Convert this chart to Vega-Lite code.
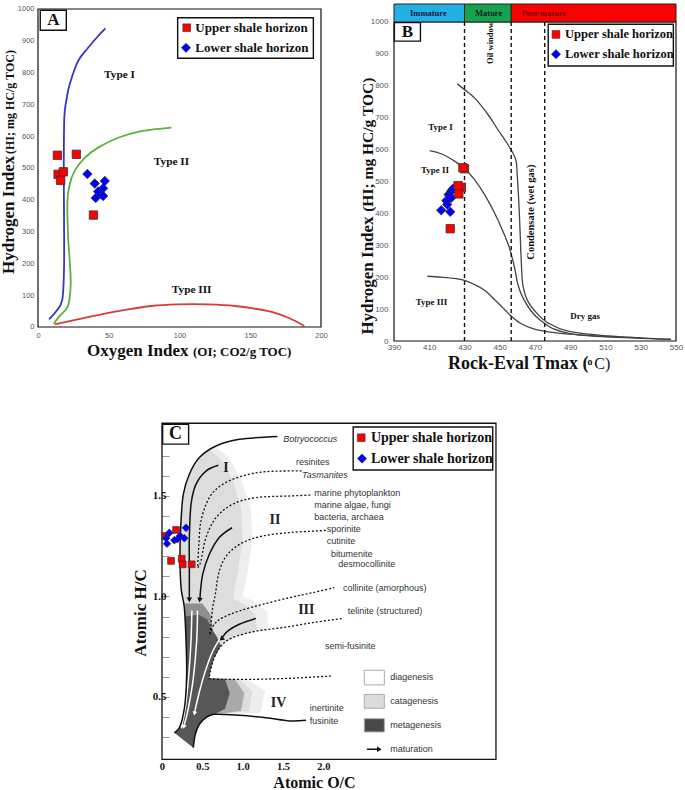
{
"$schema": "https://vega.github.io/schema/vega-lite/v6.json",
"padding": {"left": 0, "top": 3, "right": 5, "bottom": 0},
"autosize": {"type": "pad"},
"width": 638, "height": 755,
"config": {"view": {"stroke": null}, "axis": {"labelFont": "Liberation Sans", "labelColor": "#555", "ticks": false, "domain": false, "grid": false, "labelFlush": false, "labelOverlap": false}, "text": {"font": "Liberation Serif"}},
"datasets": {
"aCurves": [
{"t":"I","k":0,"x":7.8,"y":24},{"t":"I","k":1,"x":13,"y":50},{"t":"I","k":2,"x":17.2,"y":87},{"t":"I","k":3,"x":18.4,"y":187},{"t":"I","k":4,"x":18.4,"y":344},{"t":"I","k":5,"x":18.2,"y":501},{"t":"I","k":6,"x":18.6,"y":658},{"t":"I","k":7,"x":20,"y":711},{"t":"I","k":8,"x":22.4,"y":763},{"t":"I","k":9,"x":28.3,"y":836},{"t":"I","k":10,"x":35.4,"y":878},{"t":"I","k":11,"x":42.5,"y":915},{"t":"I","k":12,"x":47.6,"y":939},
{"t":"II","k":0,"x":11.1,"y":10},{"t":"II","k":1,"x":15.3,"y":35},{"t":"II","k":2,"x":21.2,"y":66},{"t":"II","k":3,"x":23.1,"y":134},{"t":"II","k":4,"x":22.4,"y":208},{"t":"II","k":5,"x":21.2,"y":291},{"t":"II","k":6,"x":20.8,"y":396},{"t":"II","k":7,"x":22.4,"y":449},{"t":"II","k":8,"x":25.9,"y":491},{"t":"II","k":9,"x":33,"y":532},{"t":"II","k":10,"x":42.5,"y":564},{"t":"II","k":11,"x":56.6,"y":595},{"t":"II","k":12,"x":73.1,"y":616},{"t":"II","k":13,"x":94.3,"y":627},
{"t":"III","k":0,"x":11.8,"y":8},{"t":"III","k":1,"x":33,"y":29},{"t":"III","k":2,"x":56.6,"y":50},{"t":"III","k":3,"x":80.2,"y":66},{"t":"III","k":4,"x":99,"y":71},{"t":"III","k":5,"x":120.3,"y":71},{"t":"III","k":6,"x":139.2,"y":66},{"t":"III","k":7,"x":162.7,"y":50},{"t":"III","k":8,"x":176.9,"y":29},{"t":"III","k":9,"x":188.2,"y":3}
],
"aPts": [
{"hz":"Upper shale horizon","x":13.7,"y":540},{"hz":"Upper shale horizon","x":27.1,"y":543},{"hz":"Upper shale horizon","x":14.2,"y":480},{"hz":"Upper shale horizon","x":17.9,"y":488},{"hz":"Upper shale horizon","x":16,"y":461},{"hz":"Upper shale horizon","x":39.2,"y":352},
{"hz":"Lower shale horizon","x":34.9,"y":481},{"hz":"Lower shale horizon","x":40.1,"y":451},{"hz":"Lower shale horizon","x":47.2,"y":459},{"hz":"Lower shale horizon","x":46,"y":436},{"hz":"Lower shale horizon","x":43.6,"y":422},{"hz":"Lower shale horizon","x":42.5,"y":426},{"hz":"Lower shale horizon","x":46,"y":412},{"hz":"Lower shale horizon","x":40.8,"y":406}
],
"bCurves": [
{"t":"I","k":0,"x":425.9,"y":806},{"t":"I","k":1,"x":430,"y":788},{"t":"I","k":2,"x":435.7,"y":762},{"t":"I","k":3,"x":443.3,"y":710},{"t":"I","k":4,"x":448.9,"y":663},{"t":"I","k":5,"x":454.6,"y":616},{"t":"I","k":6,"x":457.4,"y":590},{"t":"I","k":7,"x":459.3,"y":564},{"t":"I","k":8,"x":459.9,"y":522},{"t":"I","k":9,"x":460.8,"y":438},{"t":"I","k":10,"x":461.6,"y":334},{"t":"I","k":11,"x":462.2,"y":251},{"t":"I","k":12,"x":463.1,"y":177},{"t":"I","k":13,"x":465.9,"y":125},{"t":"I","k":14,"x":471.6,"y":84},{"t":"I","k":15,"x":477.3,"y":57},{"t":"I","k":16,"x":488.6,"y":31},{"t":"I","k":17,"x":511.3,"y":16},{"t":"I","k":18,"x":547.2,"y":5},
{"t":"II","k":0,"x":410.2,"y":597},{"t":"II","k":1,"x":416.8,"y":587},{"t":"II","k":2,"x":424.4,"y":564},{"t":"II","k":3,"x":430,"y":541},{"t":"II","k":4,"x":435.7,"y":506},{"t":"II","k":5,"x":441.4,"y":459},{"t":"II","k":6,"x":447,"y":402},{"t":"II","k":7,"x":451.8,"y":344},{"t":"II","k":8,"x":455.5,"y":292},{"t":"II","k":9,"x":458.4,"y":230},{"t":"II","k":10,"x":460.3,"y":177},{"t":"II","k":11,"x":463.1,"y":136},{"t":"II","k":12,"x":467.8,"y":94},{"t":"II","k":13,"x":473.5,"y":63},{"t":"II","k":14,"x":481,"y":37},{"t":"II","k":15,"x":492.4,"y":21},{"t":"II","k":16,"x":511.3,"y":13},{"t":"II","k":17,"x":547.2,"y":5},
{"t":"III","k":0,"x":408.9,"y":203},{"t":"III","k":1,"x":416.8,"y":200},{"t":"III","k":2,"x":424.4,"y":196},{"t":"III","k":3,"x":430,"y":190},{"t":"III","k":4,"x":435.7,"y":177},{"t":"III","k":5,"x":441.4,"y":159},{"t":"III","k":6,"x":447,"y":130},{"t":"III","k":7,"x":452.7,"y":99},{"t":"III","k":8,"x":456.5,"y":78},{"t":"III","k":9,"x":462.2,"y":54},{"t":"III","k":10,"x":469.7,"y":37},{"t":"III","k":11,"x":481,"y":26},{"t":"III","k":12,"x":496.2,"y":19},{"t":"III","k":13,"x":511.3,"y":14},{"t":"III","k":14,"x":530,"y":10}
],
"bPts": [
{"hz":"Lower shale horizon","x":416.8,"y":410},{"hz":"Lower shale horizon","x":421.9,"y":405},{"hz":"Lower shale horizon","x":420.2,"y":428},{"hz":"Lower shale horizon","x":419.7,"y":440},{"hz":"Lower shale horizon","x":421,"y":459},{"hz":"Lower shale horizon","x":422.5,"y":449},{"hz":"Lower shale horizon","x":422.5,"y":470},{"hz":"Lower shale horizon","x":423.4,"y":477},
{"hz":"Upper shale horizon","x":430,"y":540},{"hz":"Upper shale horizon","x":429.1,"y":543},{"hz":"Upper shale horizon","x":428.2,"y":482},{"hz":"Upper shale horizon","x":426.3,"y":487},{"hz":"Upper shale horizon","x":426.8,"y":461},{"hz":"Upper shale horizon","x":421.9,"y":352}
],
"cPts": [
{"hz":"Upper shale horizon","x":0.041,"y":1.301},{"hz":"Upper shale horizon","x":0.174,"y":1.331},{"hz":"Upper shale horizon","x":0.112,"y":1.177},{"hz":"Upper shale horizon","x":0.244,"y":1.188},{"hz":"Upper shale horizon","x":0.256,"y":1.16},{"hz":"Upper shale horizon","x":0.368,"y":1.16},
{"hz":"Lower shale horizon","x":0.091,"y":1.317},{"hz":"Lower shale horizon","x":0.05,"y":1.29},{"hz":"Lower shale horizon","x":0.062,"y":1.263},{"hz":"Lower shale horizon","x":0.153,"y":1.28},{"hz":"Lower shale horizon","x":0.19,"y":1.285},{"hz":"Lower shale horizon","x":0.223,"y":1.301},{"hz":"Lower shale horizon","x":0.277,"y":1.29},{"hz":"Lower shale horizon","x":0.298,"y":1.342}
],
"cPoly": [
{"p":"L0","k":0,"x":0.66,"y":1.745},{"p":"L0","k":1,"x":0.82,"y":1.695},{"p":"L0","k":2,"x":0.98,"y":1.585},{"p":"L0","k":3,"x":1.1,"y":1.44},{"p":"L0","k":4,"x":1.12,"y":1.28},{"p":"L0","k":5,"x":1.06,"y":1.12},{"p":"L0","k":6,"x":1.0,"y":1.0},{"p":"L0","k":7,"x":1.15,"y":0.975},{"p":"L0","k":8,"x":1.3,"y":0.925},{"p":"L0","k":9,"x":1.32,"y":0.84},{"p":"L0","k":10,"x":0.876,"y":0.795},{"p":"L0","k":11,"x":0.731,"y":0.754},{"p":"L0","k":12,"x":0.649,"y":0.696},{"p":"L0","k":13,"x":0.599,"y":0.629},{"p":"L0","k":14,"x":0.587,"y":0.593},{"p":"L0","k":15,"x":1.05,"y":0.59},{"p":"L0","k":16,"x":1.28,"y":0.53},{"p":"L0","k":17,"x":1.22,"y":0.42},{"p":"L0","k":18,"x":0.649,"y":0.414},{"p":"L0","k":19,"x":0.3,"y":0.4},{"p":"L0","k":20,"x":0.289,"y":0.48},{"p":"L0","k":21,"x":0.306,"y":0.613},{"p":"L0","k":22,"x":0.298,"y":0.779},{"p":"L0","k":23,"x":0.277,"y":0.944},{"p":"L0","k":24,"x":0.236,"y":1.044},{"p":"L0","k":25,"x":0.223,"y":1.21},{"p":"L0","k":26,"x":0.236,"y":1.376},{"p":"L0","k":27,"x":0.264,"y":1.508},{"p":"L0","k":28,"x":0.339,"y":1.608},{"p":"L0","k":29,"x":0.463,"y":1.691},{"p":"L0","k":30,"x":0.58,"y":1.735},
{"p":"L","k":0,"x":0.58,"y":1.735},{"p":"L","k":1,"x":0.72,"y":1.685},{"p":"L","k":2,"x":0.88,"y":1.58},{"p":"L","k":3,"x":0.98,"y":1.44},{"p":"L","k":4,"x":1.0,"y":1.28},{"p":"L","k":5,"x":0.94,"y":1.12},{"p":"L","k":6,"x":0.88,"y":0.99},{"p":"L","k":7,"x":1.02,"y":0.96},{"p":"L","k":8,"x":1.15,"y":0.91},{"p":"L","k":9,"x":1.18,"y":0.835},{"p":"L","k":10,"x":0.876,"y":0.795},{"p":"L","k":11,"x":0.731,"y":0.754},{"p":"L","k":12,"x":0.649,"y":0.696},{"p":"L","k":13,"x":0.599,"y":0.629},{"p":"L","k":14,"x":0.587,"y":0.593},{"p":"L","k":15,"x":0.95,"y":0.59},{"p":"L","k":16,"x":1.12,"y":0.53},{"p":"L","k":17,"x":1.08,"y":0.43},{"p":"L","k":18,"x":0.649,"y":0.414},{"p":"L","k":19,"x":0.3,"y":0.4},{"p":"L","k":20,"x":0.289,"y":0.48},{"p":"L","k":21,"x":0.306,"y":0.613},{"p":"L","k":22,"x":0.298,"y":0.779},{"p":"L","k":23,"x":0.277,"y":0.944},{"p":"L","k":24,"x":0.236,"y":1.044},{"p":"L","k":25,"x":0.223,"y":1.21},{"p":"L","k":26,"x":0.236,"y":1.376},{"p":"L","k":27,"x":0.264,"y":1.508},{"p":"L","k":28,"x":0.339,"y":1.608},{"p":"L","k":29,"x":0.463,"y":1.691},
{"p":"M","k":0,"x":0.587,"y":0.593},{"p":"M","k":1,"x":0.9,"y":0.59},{"p":"M","k":2,"x":1.02,"y":0.52},{"p":"M","k":3,"x":0.98,"y":0.43},{"p":"M","k":4,"x":0.649,"y":0.414},{"p":"M","k":5,"x":0.45,"y":0.4},{"p":"M","k":6,"x":0.5,"y":0.55},
{"p":"M2","k":0,"x":0.28,"y":0.965},{"p":"M2","k":1,"x":0.5,"y":0.965},{"p":"M2","k":2,"x":0.6,"y":0.91},{"p":"M2","k":3,"x":0.63,"y":0.83},{"p":"M2","k":4,"x":0.29,"y":0.85},
{"p":"D","k":0,"x":0.29,"y":0.9},{"p":"D","k":1,"x":0.45,"y":0.91},{"p":"D","k":2,"x":0.56,"y":0.885},{"p":"D","k":3,"x":0.607,"y":0.845},{"p":"D","k":4,"x":0.68,"y":0.8},{"p":"D","k":5,"x":0.731,"y":0.754},{"p":"D","k":6,"x":0.649,"y":0.696},{"p":"D","k":7,"x":0.599,"y":0.629},{"p":"D","k":8,"x":0.587,"y":0.593},{"p":"D","k":9,"x":0.78,"y":0.59},{"p":"D","k":10,"x":0.84,"y":0.52},{"p":"D","k":11,"x":0.78,"y":0.44},{"p":"D","k":12,"x":0.649,"y":0.414},{"p":"D","k":13,"x":0.545,"y":0.397},{"p":"D","k":14,"x":0.463,"y":0.364},{"p":"D","k":15,"x":0.413,"y":0.314},{"p":"D","k":16,"x":0.388,"y":0.248},{"p":"D","k":17,"x":0.153,"y":0.322},{"p":"D","k":18,"x":0.215,"y":0.347},{"p":"D","k":19,"x":0.256,"y":0.397},{"p":"D","k":20,"x":0.289,"y":0.48},{"p":"D","k":21,"x":0.306,"y":0.613},{"p":"D","k":22,"x":0.298,"y":0.779},{"p":"D","k":23,"x":0.285,"y":0.88}
],
"cSolid": [
{"c":"outer","k":0,"x":1.43,"y":1.796},{"c":"outer","k":1,"x":0.958,"y":1.782},{"c":"outer","k":2,"x":0.669,"y":1.749},{"c":"outer","k":3,"x":0.463,"y":1.691},{"c":"outer","k":4,"x":0.339,"y":1.608},{"c":"outer","k":5,"x":0.264,"y":1.508},{"c":"outer","k":6,"x":0.236,"y":1.376},{"c":"outer","k":7,"x":0.223,"y":1.21},{"c":"outer","k":8,"x":0.236,"y":1.044},{"c":"outer","k":9,"x":0.277,"y":0.944},{"c":"outer","k":10,"x":0.298,"y":0.779},{"c":"outer","k":11,"x":0.306,"y":0.613},{"c":"outer","k":12,"x":0.289,"y":0.48},{"c":"outer","k":13,"x":0.256,"y":0.397},{"c":"outer","k":14,"x":0.215,"y":0.347},{"c":"outer","k":15,"x":0.153,"y":0.322},
{"c":"tail","k":0,"x":0.388,"y":0.248},{"c":"tail","k":1,"x":0.413,"y":0.314},{"c":"tail","k":2,"x":0.463,"y":0.364},{"c":"tail","k":3,"x":0.545,"y":0.397},{"c":"tail","k":4,"x":0.649,"y":0.414},{"c":"tail","k":5,"x":0.958,"y":0.409},{"c":"tail","k":6,"x":1.289,"y":0.397},{"c":"tail","k":7,"x":1.578,"y":0.381},{"c":"tail","k":8,"x":1.785,"y":0.384},
{"c":"aI","k":0,"x":0.698,"y":1.653},{"c":"aI","k":1,"x":0.545,"y":1.624},{"c":"aI","k":2,"x":0.421,"y":1.558},{"c":"aI","k":3,"x":0.36,"y":1.459},{"c":"aI","k":4,"x":0.339,"y":1.293},{"c":"aI","k":5,"x":0.339,"y":1.127},{"c":"aI","k":6,"x":0.339,"y":0.99},
{"c":"aII","k":0,"x":0.868,"y":1.342},{"c":"aII","k":1,"x":0.71,"y":1.293},{"c":"aII","k":2,"x":0.587,"y":1.21},{"c":"aII","k":3,"x":0.504,"y":1.11},{"c":"aII","k":4,"x":0.47,"y":0.99},
{"c":"aIII","k":0,"x":1.165,"y":0.891},{"c":"aIII","k":1,"x":0.958,"y":0.862},{"c":"aIII","k":2,"x":0.814,"y":0.828},{"c":"aIII","k":3,"x":0.745,"y":0.795},
{"c":"mat","k":0,"x":2.54,"y":0.24},{"c":"mat","k":1,"x":2.68,"y":0.24}
],
"cDot": [
{"c":"d1","k":0,"x":1.73,"y":1.625},{"c":"d1","k":1,"x":1.289,"y":1.621},{"c":"d1","k":2,"x":1.0,"y":1.6},{"c":"d1","k":3,"x":0.752,"y":1.558},{"c":"d1","k":4,"x":0.587,"y":1.492},{"c":"d1","k":5,"x":0.483,"y":1.376},{"c":"d1","k":6,"x":0.455,"y":1.243},{"c":"d1","k":7,"x":0.442,"y":1.143},
{"c":"d2","k":0,"x":0.442,"y":1.143},{"c":"d2","k":1,"x":0.483,"y":1.177},{"c":"d2","k":2,"x":0.545,"y":1.293},{"c":"d2","k":3,"x":0.669,"y":1.392},{"c":"d2","k":4,"x":0.876,"y":1.459},{"c":"d2","k":5,"x":1.165,"y":1.492},{"c":"d2","k":6,"x":1.578,"y":1.5},{"c":"d2","k":7,"x":1.85,"y":1.505},
{"c":"d5","k":0,"x":2.03,"y":1.329},{"c":"d5","k":1,"x":1.909,"y":1.326},{"c":"d5","k":2,"x":1.578,"y":1.318},{"c":"d5","k":3,"x":1.248,"y":1.301},{"c":"d5","k":4,"x":1.0,"y":1.268},{"c":"d5","k":5,"x":0.814,"y":1.21},{"c":"d5","k":6,"x":0.71,"y":1.127},{"c":"d5","k":7,"x":0.661,"y":1.011},{"c":"d5","k":8,"x":0.628,"y":0.944},{"c":"d5","k":9,"x":0.607,"y":0.862},{"c":"d5","k":10,"x":0.595,"y":0.812},
{"c":"d6","k":0,"x":0.595,"y":0.812},{"c":"d6","k":1,"x":0.649,"y":0.862},{"c":"d6","k":2,"x":0.752,"y":0.895},{"c":"d6","k":3,"x":0.958,"y":0.928},{"c":"d6","k":4,"x":1.248,"y":0.961},{"c":"d6","k":5,"x":1.578,"y":0.994},{"c":"d6","k":6,"x":1.868,"y":1.019},{"c":"d6","k":7,"x":2.136,"y":1.044},
{"c":"d8","k":0,"x":2.227,"y":0.89},{"c":"d8","k":1,"x":1.868,"y":0.87},{"c":"d8","k":2,"x":1.496,"y":0.845},{"c":"d8","k":3,"x":1.165,"y":0.828},{"c":"d8","k":4,"x":0.876,"y":0.795},{"c":"d8","k":5,"x":0.731,"y":0.754},{"c":"d8","k":6,"x":0.649,"y":0.696},{"c":"d8","k":7,"x":0.599,"y":0.629},{"c":"d8","k":8,"x":0.587,"y":0.593},
{"c":"d9","k":0,"x":0.587,"y":0.593},{"c":"d9","k":1,"x":0.669,"y":0.588},{"c":"d9","k":2,"x":1.165,"y":0.588},{"c":"d9","k":3,"x":1.578,"y":0.593},{"c":"d9","k":4,"x":1.909,"y":0.6},{"c":"d9","k":5,"x":2.095,"y":0.604}
],
"cWhite": [
{"c":"w1","k":0,"x":0.37,"y":0.93},{"c":"w1","k":1,"x":0.36,"y":0.78},{"c":"w1","k":2,"x":0.33,"y":0.6},{"c":"w1","k":3,"x":0.29,"y":0.45},{"c":"w1","k":4,"x":0.245,"y":0.36},
{"c":"w2","k":0,"x":0.44,"y":0.93},{"c":"w2","k":1,"x":0.43,"y":0.78},{"c":"w2","k":2,"x":0.39,"y":0.6},{"c":"w2","k":3,"x":0.33,"y":0.45},{"c":"w2","k":4,"x":0.275,"y":0.36},
{"c":"w3","k":0,"x":0.72,"y":0.79},{"c":"w3","k":1,"x":0.62,"y":0.72},{"c":"w3","k":2,"x":0.53,"y":0.62},{"c":"w3","k":3,"x":0.46,"y":0.52},{"c":"w3","k":4,"x":0.405,"y":0.425}
]
},
"resolve": {"scale": {"x": "independent", "y": "independent", "stroke": "independent", "fill": "independent", "shape": "independent", "size": "independent", "color": "independent", "angle": "independent"}, "axis": {"x": "independent", "y": "independent"}},
"layer": [
{
"resolve": {"scale": {"stroke": "independent", "fill": "independent", "shape": "independent", "size": "independent", "color": "independent"}},
"layer": [
{"data": {"name": "aCurves"}, "mark": {"type": "line", "strokeWidth": 1.8, "interpolate": "cardinal"},
 "encoding": {
  "x": {"field": "x", "type": "quantitative", "scale": {"domain": [0, 450.88], "nice": false, "zero": false}, "axis": {"orient": "bottom", "offset": -432, "values": [0, 50, 100, 150, 200], "format": "d", "title": null, "labelFontSize": 7.5, "labelPadding": 4}},
  "y": {"field": "y", "type": "quantitative", "scale": {"domain": [-1358.5, 1015.7], "nice": false, "zero": false}, "axis": {"orient": "left", "values": [0, 100, 200, 300, 400, 500, 600, 700, 800, 900, 1000], "format": "d", "title": null, "labelFontSize": 7.5, "labelPadding": 4}},
  "stroke": {"field": "t", "type": "nominal", "scale": {"domain": ["I", "II", "III"], "range": ["#3434c8", "#5cb040", "#d63c3c"]}, "legend": null},
  "order": {"field": "k", "type": "quantitative"}}},
{"data": {"values": [{}]}, "mark": {"type": "rect", "fill": "white", "fillOpacity": 0, "stroke": "#111", "strokeWidth": 1.2},
 "encoding": {"x": {"datum": 0, "type": "quantitative"}, "x2": {"datum": 200}, "y": {"datum": 0, "type": "quantitative"}, "y2": {"datum": 1000}}},
{"data": {"name": "aPts"}, "mark": {"type": "point", "filled": true, "stroke": "#333", "strokeWidth": 0.8, "opacity": 1},
 "encoding": {"x": {"field": "x", "type": "quantitative"}, "y": {"field": "y", "type": "quantitative"},
  "shape": {"field": "hz", "type": "nominal", "scale": {"domain": ["Upper shale horizon", "Lower shale horizon"], "range": ["square", "diamond"]}, "legend": null},
  "fill": {"field": "hz", "type": "nominal", "scale": {"domain": ["Upper shale horizon", "Lower shale horizon"], "range": ["#ff0000", "#0000ff"]}, "legend": null},
  "size": {"field": "hz", "type": "ordinal", "scale": {"domain": ["Upper shale horizon", "Lower shale horizon"], "range": [70, 90]}, "legend": null}}},
{"data": {"values": [{}]}, "mark": {"type": "rect", "fill": "white", "stroke": "#111", "strokeWidth": 1.4},
 "encoding": {"x": {"datum": 98.7, "type": "quantitative"}, "x2": {"datum": 194.6}, "y": {"datum": 845, "type": "quantitative"}, "y2": {"datum": 972.6}}},
{"data": {"values": [{"hz": "Upper shale horizon", "x": 105.1, "y": 941}, {"hz": "Lower shale horizon", "x": 104.6, "y": 878}]},
 "mark": {"type": "point", "filled": true, "stroke": "#333", "strokeWidth": 0.6, "opacity": 1},
 "encoding": {"x": {"field": "x", "type": "quantitative"}, "y": {"field": "y", "type": "quantitative"},
  "shape": {"field": "hz", "type": "nominal", "scale": {"domain": ["Upper shale horizon", "Lower shale horizon"], "range": ["square", "diamond"]}, "legend": null},
  "fill": {"field": "hz", "type": "nominal", "scale": {"domain": ["Upper shale horizon", "Lower shale horizon"], "range": ["#ff0000", "#0000ff"]}, "legend": null},
  "size": {"field": "hz", "type": "ordinal", "scale": {"domain": ["Upper shale horizon", "Lower shale horizon"], "range": [60, 85]}, "legend": null}}},
{"data": {"values": [{"x": 111.2, "y": 941, "txt": "Upper shale horizon"}, {"x": 111.2, "y": 878, "txt": "Lower shale horizon"}]},
 "mark": {"type": "text", "align": "left", "baseline": "middle", "fontWeight": "bold", "fontSize": 13, "color": "#111"},
 "encoding": {"x": {"field": "x", "type": "quantitative"}, "y": {"field": "y", "type": "quantitative"}, "text": {"field": "txt"}}},
{"data": {"values": [{}]}, "mark": {"type": "rect", "fill": "white", "stroke": "#111", "strokeWidth": 1.4},
 "encoding": {"x": {"datum": 1.6, "type": "quantitative"}, "x2": {"datum": 20}, "y": {"datum": 933, "type": "quantitative"}, "y2": {"datum": 996}}},
{"data": {"values": [{"x": 10.8, "y": 964, "txt": "A"}]},
 "mark": {"type": "text", "align": "center", "baseline": "middle", "fontWeight": "bold", "fontSize": 17, "color": "#111"},
 "encoding": {"x": {"field": "x", "type": "quantitative"}, "y": {"field": "y", "type": "quantitative"}, "text": {"field": "txt"}}},
{"data": {"values": [{"x": 57.6, "y": 792, "txt": "Type I"}, {"x": 94.3, "y": 519, "txt": "Type II"}, {"x": 108.6, "y": 115, "txt": "Type III"}]},
 "mark": {"type": "text", "align": "center", "baseline": "middle", "fontWeight": "bold", "fontSize": 11.3, "color": "#111"},
 "encoding": {"x": {"field": "x", "type": "quantitative"}, "y": {"field": "y", "type": "quantitative"}, "text": {"field": "txt"}}},
{"data": {"values": [{"x": 34.6, "y": -91, "txt": "Oxygen Index"}]},
 "mark": {"type": "text", "align": "left", "baseline": "alphabetic", "fontWeight": "bold", "fontSize": 17, "color": "#111"},
 "encoding": {"x": {"field": "x", "type": "quantitative"}, "y": {"field": "y", "type": "quantitative"}, "text": {"field": "txt"}}},
{"data": {"values": [{"x": 109.5, "y": -91, "txt": "(OI; CO2/g TOC)"}]},
 "mark": {"type": "text", "align": "left", "baseline": "alphabetic", "fontWeight": "bold", "fontSize": 13, "color": "#111"},
 "encoding": {"x": {"field": "x", "type": "quantitative"}, "y": {"field": "y", "type": "quantitative"}, "text": {"field": "txt"}}},
{"data": {"values": [{"x": -16.7, "y": 167, "txt": "Hydrogen Index"}]},
 "mark": {"type": "text", "angle": 270, "align": "left", "baseline": "alphabetic", "fontWeight": "bold", "fontSize": 17, "color": "#111"},
 "encoding": {"x": {"field": "x", "type": "quantitative"}, "y": {"field": "y", "type": "quantitative"}, "text": {"field": "txt"}}},
{"data": {"values": [{"x": -16.7, "y": 544, "txt": "(HI; mg HC/g TOC)"}]},
 "mark": {"type": "text", "angle": 270, "align": "left", "baseline": "alphabetic", "fontWeight": "bold", "fontSize": 12, "color": "#111"},
 "encoding": {"x": {"field": "x", "type": "quantitative"}, "y": {"field": "y", "type": "quantitative"}, "text": {"field": "txt"}}}
]
},
{
"resolve": {"scale": {"stroke": "independent", "fill": "independent", "shape": "independent", "size": "independent", "color": "independent"}},
"layer": [
{"data": {"name": "bCurves"}, "mark": {"type": "line", "strokeWidth": 1.3, "interpolate": "cardinal", "color": "#444"},
 "encoding": {
  "x": {"field": "x", "type": "quantitative", "scale": {"domain": [188.01, 550], "nice": false, "zero": false}, "axis": {"orient": "bottom", "offset": -418, "values": [390, 410, 430, 450, 470, 490, 510, 530, 550], "format": "d", "title": null, "labelFontSize": 8, "labelPadding": 2}},
  "y": {"field": "y", "type": "quantitative", "scale": {"domain": [-1310.3, 1056.4], "nice": false, "zero": false}, "axis": {"orient": "left", "offset": -356, "values": [0, 100, 200, 300, 400, 500, 600, 700, 800, 900, 1000], "format": "d", "title": null, "labelFontSize": 8, "labelPadding": 6}},
  "detail": {"field": "t"},
  "order": {"field": "k", "type": "quantitative"}}},
{"data": {"values": [{}]}, "mark": {"type": "rect", "fill": "white", "fillOpacity": 0, "stroke": "#111", "strokeWidth": 1.2},
 "encoding": {"x": {"datum": 390, "type": "quantitative"}, "x2": {"datum": 550}, "y": {"datum": 0, "type": "quantitative"}, "y2": {"datum": 1000}}},
{"data": {"values": [{"lab": "Immature", "x": 390, "x2": 430}, {"lab": "Mature", "x": 430, "x2": 456.5}, {"lab": "Post-mature", "x": 456.5, "x2": 550}]},
 "mark": {"type": "rect", "stroke": "#222", "strokeWidth": 1},
 "encoding": {"x": {"field": "x", "type": "quantitative"}, "x2": {"field": "x2"}, "y": {"datum": 1000, "type": "quantitative"}, "y2": {"datum": 1056.4},
  "color": {"field": "lab", "type": "nominal", "scale": {"domain": ["Immature", "Mature", "Post-mature"], "range": ["#22b0e6", "#16a34e", "#ff0000"]}, "legend": null}}},
{"data": {"values": [{"lab": "Immature", "x": 409.5, "y": 1028}, {"lab": "Mature", "x": 443.7, "y": 1028}, {"lab": "Post-mature", "x": 475.1, "y": 1028}]},
 "mark": {"type": "text", "align": "center", "baseline": "middle", "fontWeight": "bold", "fontSize": 8.5},
 "encoding": {"x": {"field": "x", "type": "quantitative"}, "y": {"field": "y", "type": "quantitative"}, "text": {"field": "lab"},
  "color": {"field": "lab", "type": "nominal", "scale": {"domain": ["Immature", "Mature", "Post-mature"], "range": ["#1a1a3a", "#1a1a1a", "#7a0000"]}, "legend": null}}},
{"data": {"values": [{"x": 430}, {"x": 456.5}, {"x": 475.5}]},
 "mark": {"type": "rule", "strokeDash": [4, 3], "strokeWidth": 1.4, "color": "#111"},
 "encoding": {"x": {"field": "x", "type": "quantitative"}, "y": {"datum": 0, "type": "quantitative"}, "y2": {"datum": 1000}}},
{"data": {"name": "bPts"}, "mark": {"type": "point", "filled": true, "stroke": "#333", "strokeWidth": 0.8, "opacity": 1},
 "encoding": {"x": {"field": "x", "type": "quantitative"}, "y": {"field": "y", "type": "quantitative"},
  "shape": {"field": "hz", "type": "nominal", "scale": {"domain": ["Upper shale horizon", "Lower shale horizon"], "range": ["square", "diamond"]}, "legend": null},
  "fill": {"field": "hz", "type": "nominal", "scale": {"domain": ["Upper shale horizon", "Lower shale horizon"], "range": ["#ff0000", "#0000ff"]}, "legend": null},
  "size": {"field": "hz", "type": "ordinal", "scale": {"domain": ["Upper shale horizon", "Lower shale horizon"], "range": [70, 90]}, "legend": null}}},
{"data": {"values": [{}]}, "mark": {"type": "rect", "fill": "white", "stroke": "#111", "strokeWidth": 1.4},
 "encoding": {"x": {"datum": 477.5, "type": "quantitative"}, "x2": {"datum": 548.5}, "y": {"datum": 862, "type": "quantitative"}, "y2": {"datum": 992.8}}},
{"data": {"values": [{"hz": "Upper shale horizon", "x": 481.9, "y": 961}, {"hz": "Lower shale horizon", "x": 481.9, "y": 899}]},
 "mark": {"type": "point", "filled": true, "stroke": "#333", "strokeWidth": 0.6, "opacity": 1},
 "encoding": {"x": {"field": "x", "type": "quantitative"}, "y": {"field": "y", "type": "quantitative"},
  "shape": {"field": "hz", "type": "nominal", "scale": {"domain": ["Upper shale horizon", "Lower shale horizon"], "range": ["square", "diamond"]}, "legend": null},
  "fill": {"field": "hz", "type": "nominal", "scale": {"domain": ["Upper shale horizon", "Lower shale horizon"], "range": ["#ff0000", "#0000ff"]}, "legend": null},
  "size": {"field": "hz", "type": "ordinal", "scale": {"domain": ["Upper shale horizon", "Lower shale horizon"], "range": [60, 85]}, "legend": null}}},
{"data": {"values": [{"x": 487, "y": 961, "txt": "Upper shale horizon"}, {"x": 487, "y": 899, "txt": "Lower shale horizon"}]},
 "mark": {"type": "text", "align": "left", "baseline": "middle", "fontWeight": "bold", "fontSize": 12.5, "color": "#111"},
 "encoding": {"x": {"field": "x", "type": "quantitative"}, "y": {"field": "y", "type": "quantitative"}, "text": {"field": "txt"}}},
{"data": {"values": [{}]}, "mark": {"type": "rect", "fill": "white", "stroke": "#111", "strokeWidth": 1.4},
 "encoding": {"x": {"datum": 390.2, "type": "quantitative"}, "x2": {"datum": 405}, "y": {"datum": 940, "type": "quantitative"}, "y2": {"datum": 998}}},
{"data": {"values": [{"x": 397.6, "y": 969, "txt": "B"}]},
 "mark": {"type": "text", "align": "center", "baseline": "middle", "fontWeight": "bold", "fontSize": 17, "color": "#111"},
 "encoding": {"x": {"field": "x", "type": "quantitative"}, "y": {"field": "y", "type": "quantitative"}, "text": {"field": "txt"}}},
{"data": {"values": [{"x": 416.4, "y": 671, "txt": "Type I"}, {"x": 413.3, "y": 536, "txt": "Type II"}, {"x": 411.3, "y": 122, "txt": "Type III"}, {"x": 498.5, "y": 78, "txt": "Dry gas"}]},
 "mark": {"type": "text", "align": "center", "baseline": "middle", "fontWeight": "bold", "fontSize": 9, "color": "#111"},
 "encoding": {"x": {"field": "x", "type": "quantitative"}, "y": {"field": "y", "type": "quantitative"}, "text": {"field": "txt"}}},
{"data": {"values": [{"x": 444.5, "y": 934, "txt": "Oil window"}]},
 "mark": {"type": "text", "angle": 270, "align": "center", "baseline": "middle", "fontWeight": "bold", "fontSize": 8.5, "color": "#111"},
 "encoding": {"x": {"field": "x", "type": "quantitative"}, "y": {"field": "y", "type": "quantitative"}, "text": {"field": "txt"}}},
{"data": {"values": [{"x": 467.7, "y": 404, "txt": "Condensate (wet gas)"}]},
 "mark": {"type": "text", "angle": 270, "align": "center", "baseline": "middle", "fontWeight": "bold", "fontSize": 10.5, "color": "#111"},
 "encoding": {"x": {"field": "x", "type": "quantitative"}, "y": {"field": "y", "type": "quantitative"}, "text": {"field": "txt"}}},
{"data": {"values": [{"x": 420.6, "y": -88, "txt": "Rock-Eval Tmax ("}]},
 "mark": {"type": "text", "align": "left", "baseline": "alphabetic", "fontWeight": "bold", "fontSize": 18, "color": "#111"},
 "encoding": {"x": {"field": "x", "type": "quantitative"}, "y": {"field": "y", "type": "quantitative"}, "text": {"field": "txt"}}},
{"data": {"values": [{"x": 499.8, "y": -74, "txt": "o"}]},
 "mark": {"type": "text", "align": "left", "baseline": "alphabetic", "fontWeight": "bold", "fontSize": 10, "color": "#111"},
 "encoding": {"x": {"field": "x", "type": "quantitative"}, "y": {"field": "y", "type": "quantitative"}, "text": {"field": "txt"}}},
{"data": {"values": [{"x": 503.6, "y": -88, "txt": "C)"}]},
 "mark": {"type": "text", "align": "left", "baseline": "alphabetic", "fontSize": 16, "color": "#111"},
 "encoding": {"x": {"field": "x", "type": "quantitative"}, "y": {"field": "y", "type": "quantitative"}, "text": {"field": "txt"}}},
{"data": {"values": [{"x": 378.1, "y": 20, "txt": "Hydrogen Index"}]},
 "mark": {"type": "text", "angle": 270, "align": "left", "baseline": "alphabetic", "fontWeight": "bold", "fontSize": 17, "color": "#111"},
 "encoding": {"x": {"field": "x", "type": "quantitative"}, "y": {"field": "y", "type": "quantitative"}, "text": {"field": "txt"}}},
{"data": {"values": [{"x": 378.1, "y": 405, "txt": "(HI; mg HC/g TOC)"}]},
 "mark": {"type": "text", "angle": 270, "align": "left", "baseline": "alphabetic", "fontWeight": "bold", "fontSize": 15.5, "color": "#111"},
 "encoding": {"x": {"field": "x", "type": "quantitative"}, "y": {"field": "y", "type": "quantitative"}, "text": {"field": "txt"}}}
]
},
{
"resolve": {"scale": {"stroke": "independent", "fill": "independent", "shape": "independent", "size": "independent", "color": "independent", "angle": "independent"}},
"layer": [
{"data": {"name": "cPoly"}, "transform": [{"filter": "datum.p == 'L0'"}], "mark": {"type": "line", "fill": "#eeeeee", "strokeWidth": 0, "strokeOpacity": 0, "interpolate": "linear-closed"},
 "encoding": {
  "x": {"field": "x", "type": "quantitative", "scale": {"domain": [-1.5371, 6.3717], "nice": false, "zero": false}, "axis": {"orient": "bottom", "values": [0, 0.5, 1, 1.5, 2], "title": null, "labelExpr": "datum.value == 0 ? '0' : format(datum.value, '.1f')", "labelFont": "Liberation Serif", "labelFontWeight": "bold", "labelFontSize": 10.5, "labelColor": "#111", "labelPadding": 2}},
  "y": {"field": "y", "type": "quantitative", "scale": {"domain": [0.1915, 3.9478], "nice": false, "zero": false}, "axis": {"orient": "left", "offset": -124, "values": [0.3, 0.4, 0.5, 0.6, 0.7, 0.8, 0.9, 1.0, 1.1, 1.2, 1.3, 1.4, 1.5, 1.6, 1.7, 1.8], "title": null, "ticks": true, "tickSize": -7, "tickColor": "#999", "labelExpr": "(datum.value == 0.5 || datum.value == 1 || datum.value == 1.5) ? format(datum.value, '.1f') : ''", "labelFont": "Liberation Serif", "labelFontWeight": "bold", "labelFontSize": 11, "labelColor": "#111", "labelPadding": 3}},
  "order": {"field": "k", "type": "quantitative"}}},
{"data": {"name": "cPoly"}, "transform": [{"filter": "datum.p == 'L'"}], "mark": {"type": "line", "fill": "#dddddd", "strokeWidth": 0, "strokeOpacity": 0, "interpolate": "linear-closed"},
 "encoding": {"x": {"field": "x", "type": "quantitative"}, "y": {"field": "y", "type": "quantitative"}, "order": {"field": "k", "type": "quantitative"}}},
{"data": {"name": "cPoly"}, "transform": [{"filter": "datum.p == 'M'"}], "mark": {"type": "line", "fill": "#aaaaaa", "strokeWidth": 0, "strokeOpacity": 0, "interpolate": "linear-closed"},
 "encoding": {"x": {"field": "x", "type": "quantitative"}, "y": {"field": "y", "type": "quantitative"}, "order": {"field": "k", "type": "quantitative"}}},
{"data": {"name": "cPoly"}, "transform": [{"filter": "datum.p == 'M2'"}], "mark": {"type": "line", "fill": "#8e8e8e", "strokeWidth": 0, "strokeOpacity": 0, "interpolate": "linear-closed"},
 "encoding": {"x": {"field": "x", "type": "quantitative"}, "y": {"field": "y", "type": "quantitative"}, "order": {"field": "k", "type": "quantitative"}}},
{"data": {"name": "cPoly"}, "transform": [{"filter": "datum.p == 'D'"}], "mark": {"type": "line", "fill": "#575757", "strokeWidth": 0, "strokeOpacity": 0, "interpolate": "linear-closed"},
 "encoding": {"x": {"field": "x", "type": "quantitative"}, "y": {"field": "y", "type": "quantitative"}, "order": {"field": "k", "type": "quantitative"}}},
{"data": {"values": [{}]}, "mark": {"type": "rect", "fill": "white", "fillOpacity": 0, "stroke": "#111", "strokeWidth": 1.3},
 "encoding": {"x": {"datum": 0, "type": "quantitative"}, "x2": {"datum": 4.14}, "y": {"datum": 0.19, "type": "quantitative"}, "y2": {"datum": 1.862}}},
{"data": {"name": "cWhite"}, "mark": {"type": "line", "strokeWidth": 1.5, "interpolate": "cardinal", "color": "white"},
 "encoding": {"x": {"field": "x", "type": "quantitative"}, "y": {"field": "y", "type": "quantitative"}, "detail": {"field": "c"}, "order": {"field": "k", "type": "quantitative"}}},
{"data": {"values": [{"x": 0.243, "y": 0.352, "dir": 11}, {"x": 0.272, "y": 0.352, "dir": 13}, {"x": 0.403, "y": 0.418, "dir": 12}]},
 "mark": {"type": "point", "shape": "triangle-down", "filled": true, "color": "white", "size": 22, "opacity": 1},
 "encoding": {"x": {"field": "x", "type": "quantitative"}, "y": {"field": "y", "type": "quantitative"}, "angle": {"field": "dir", "type": "quantitative", "scale": null}}},
{"data": {"name": "cSolid"}, "mark": {"type": "line", "strokeWidth": 1.5, "interpolate": "cardinal", "color": "#111"},
 "encoding": {"x": {"field": "x", "type": "quantitative"}, "y": {"field": "y", "type": "quantitative"}, "detail": {"field": "c"}, "order": {"field": "k", "type": "quantitative"}}},
{"data": {"name": "cDot"}, "mark": {"type": "line", "strokeWidth": 1.3, "strokeDash": [2, 2], "interpolate": "cardinal", "color": "#111"},
 "encoding": {"x": {"field": "x", "type": "quantitative"}, "y": {"field": "y", "type": "quantitative"}, "detail": {"field": "c"}, "order": {"field": "k", "type": "quantitative"}}},
{"data": {"values": [{"x": 0.339, "y": 0.983, "dir": 0}, {"x": 0.467, "y": 0.982, "dir": 6}, {"x": 0.737, "y": 0.789, "dir": 49}, {"x": 2.695, "y": 0.24, "dir": -90}]},
 "mark": {"type": "point", "shape": "triangle-down", "filled": true, "color": "#111", "size": 30, "opacity": 1},
 "encoding": {"x": {"field": "x", "type": "quantitative"}, "y": {"field": "y", "type": "quantitative"}, "angle": {"field": "dir", "type": "quantitative", "scale": null}}},
{"data": {"name": "cPts"}, "mark": {"type": "point", "filled": true, "stroke": "#333", "strokeWidth": 0.7, "opacity": 1},
 "encoding": {"x": {"field": "x", "type": "quantitative"}, "y": {"field": "y", "type": "quantitative"},
  "shape": {"field": "hz", "type": "nominal", "scale": {"domain": ["Upper shale horizon", "Lower shale horizon"], "range": ["square", "diamond"]}, "legend": null},
  "fill": {"field": "hz", "type": "nominal", "scale": {"domain": ["Upper shale horizon", "Lower shale horizon"], "range": ["#ff0000", "#0000ff"]}, "legend": null},
  "size": {"field": "hz", "type": "ordinal", "scale": {"domain": ["Upper shale horizon", "Lower shale horizon"], "range": [46, 60]}, "legend": null}}},
{"data": {"values": [{}]}, "mark": {"type": "rect", "fill": "white", "stroke": "#111", "strokeWidth": 1.4},
 "encoding": {"x": {"datum": 2.37, "type": "quantitative"}, "x2": {"datum": 4.1}, "y": {"datum": 1.629, "type": "quantitative"}, "y2": {"datum": 1.843}}},
{"data": {"values": [{"hz": "Upper shale horizon", "x": 2.47, "y": 1.79}, {"hz": "Lower shale horizon", "x": 2.48, "y": 1.686}]},
 "mark": {"type": "point", "filled": true, "stroke": "#333", "strokeWidth": 0.6, "opacity": 1},
 "encoding": {"x": {"field": "x", "type": "quantitative"}, "y": {"field": "y", "type": "quantitative"},
  "shape": {"field": "hz", "type": "nominal", "scale": {"domain": ["Upper shale horizon", "Lower shale horizon"], "range": ["square", "diamond"]}, "legend": null},
  "fill": {"field": "hz", "type": "nominal", "scale": {"domain": ["Upper shale horizon", "Lower shale horizon"], "range": ["#ff0000", "#0000ff"]}, "legend": null},
  "size": {"field": "hz", "type": "ordinal", "scale": {"domain": ["Upper shale horizon", "Lower shale horizon"], "range": [60, 85]}, "legend": null}}},
{"data": {"values": [{"x": 2.59, "y": 1.79, "txt": "Upper shale horizon"}, {"x": 2.59, "y": 1.686, "txt": "Lower shale horizon"}]},
 "mark": {"type": "text", "align": "left", "baseline": "middle", "fontWeight": "bold", "fontSize": 14, "color": "#111"},
 "encoding": {"x": {"field": "x", "type": "quantitative"}, "y": {"field": "y", "type": "quantitative"}, "text": {"field": "txt"}}},
{"data": {"values": [{}]}, "mark": {"type": "rect", "fill": "white", "stroke": "#111", "strokeWidth": 1.4},
 "encoding": {"x": {"datum": 0.008, "type": "quantitative"}, "x2": {"datum": 0.33}, "y": {"datum": 1.758, "type": "quantitative"}, "y2": {"datum": 1.857}}},
{"data": {"values": [{"x": 0.167, "y": 1.806, "txt": "C"}]},
 "mark": {"type": "text", "align": "center", "baseline": "middle", "fontWeight": "bold", "fontSize": 18, "color": "#111"},
 "encoding": {"x": {"field": "x", "type": "quantitative"}, "y": {"field": "y", "type": "quantitative"}, "text": {"field": "txt"}}},
{"data": {"values": [
 {"x": 1.661, "y": 1.669, "txt": "resinites"},
 {"x": 1.888, "y": 1.515, "txt": "marine phytoplankton"},
 {"x": 1.888, "y": 1.454, "txt": "marine algae, fungi"},
 {"x": 1.888, "y": 1.394, "txt": "bacteria, archaea"},
 {"x": 2.041, "y": 1.336, "txt": "sporinite"},
 {"x": 2.041, "y": 1.275, "txt": "cutinite"},
 {"x": 2.095, "y": 1.211, "txt": "bitumenite"},
 {"x": 2.186, "y": 1.163, "txt": "desmocollinite"},
 {"x": 2.244, "y": 1.042, "txt": "collinite (amorphous)"},
 {"x": 2.302, "y": 0.926, "txt": "telinite (structured)"},
 {"x": 2.021, "y": 0.754, "txt": "semi-fusinite"},
 {"x": 1.831, "y": 0.444, "txt": "inertinite"},
 {"x": 1.831, "y": 0.381, "txt": "fusinite"},
 {"x": 2.83, "y": 0.6, "txt": "diagenesis"},
 {"x": 2.83, "y": 0.479, "txt": "catagenesis"},
 {"x": 2.83, "y": 0.361, "txt": "metagenesis"},
 {"x": 2.83, "y": 0.24, "txt": "maturation"}]},
 "mark": {"type": "text", "align": "left", "baseline": "middle", "font": "Liberation Sans", "fontSize": 9, "color": "#333"},
 "encoding": {"x": {"field": "x", "type": "quantitative"}, "y": {"field": "y", "type": "quantitative"}, "text": {"field": "txt"}}},
{"data": {"values": [{"x": 1.504, "y": 1.782, "txt": "Botryococcus"}, {"x": 1.736, "y": 1.603, "txt": "Tasmanites"}]},
 "mark": {"type": "text", "align": "left", "baseline": "middle", "font": "Liberation Sans", "fontStyle": "italic", "fontSize": 9, "color": "#333"},
 "encoding": {"x": {"field": "x", "type": "quantitative"}, "y": {"field": "y", "type": "quantitative"}, "text": {"field": "txt"}}},
{"data": {"values": [{"x": 0.793, "y": 1.641, "txt": "I"}, {"x": 1.401, "y": 1.379, "txt": "II"}, {"x": 1.789, "y": 0.933, "txt": "III"}, {"x": 1.446, "y": 0.472, "txt": "IV"}]},
 "mark": {"type": "text", "align": "center", "baseline": "middle", "fontWeight": "bold", "fontSize": 14, "color": "#222"},
 "encoding": {"x": {"field": "x", "type": "quantitative"}, "y": {"field": "y", "type": "quantitative"}, "text": {"field": "txt"}}},
{"data": {"values": [{"m": "diagenesis", "x": 2.508, "x2": 2.756, "y": 0.56, "y2": 0.633}, {"m": "catagenesis", "x": 2.508, "x2": 2.756, "y": 0.444, "y2": 0.513}, {"m": "metagenesis", "x": 2.508, "x2": 2.756, "y": 0.326, "y2": 0.392}]},
 "mark": {"type": "rect", "stroke": "#aaa", "strokeWidth": 1},
 "encoding": {"x": {"field": "x", "type": "quantitative"}, "x2": {"field": "x2"}, "y": {"field": "y", "type": "quantitative"}, "y2": {"field": "y2"},
  "color": {"field": "m", "type": "nominal", "scale": {"domain": ["diagenesis", "catagenesis", "metagenesis"], "range": ["#ffffff", "#dcdcdc", "#484848"]}, "legend": null}}},
{"data": {"values": [{"x": 1.89, "y": 0.0473, "txt": "Atomic O/C"}]},
 "mark": {"type": "text", "align": "center", "baseline": "alphabetic", "fontWeight": "bold", "fontSize": 16, "color": "#111"},
 "encoding": {"x": {"field": "x", "type": "quantitative"}, "y": {"field": "y", "type": "quantitative"}, "text": {"field": "txt"}}},
{"data": {"values": [{"x": -0.26, "y": 0.918, "txt": "Atomic H/C"}]},
 "mark": {"type": "text", "angle": 270, "align": "center", "baseline": "middle", "fontWeight": "bold", "fontSize": 17, "color": "#111"},
 "encoding": {"x": {"field": "x", "type": "quantitative"}, "y": {"field": "y", "type": "quantitative"}, "text": {"field": "txt"}}}
]
}
]
}
